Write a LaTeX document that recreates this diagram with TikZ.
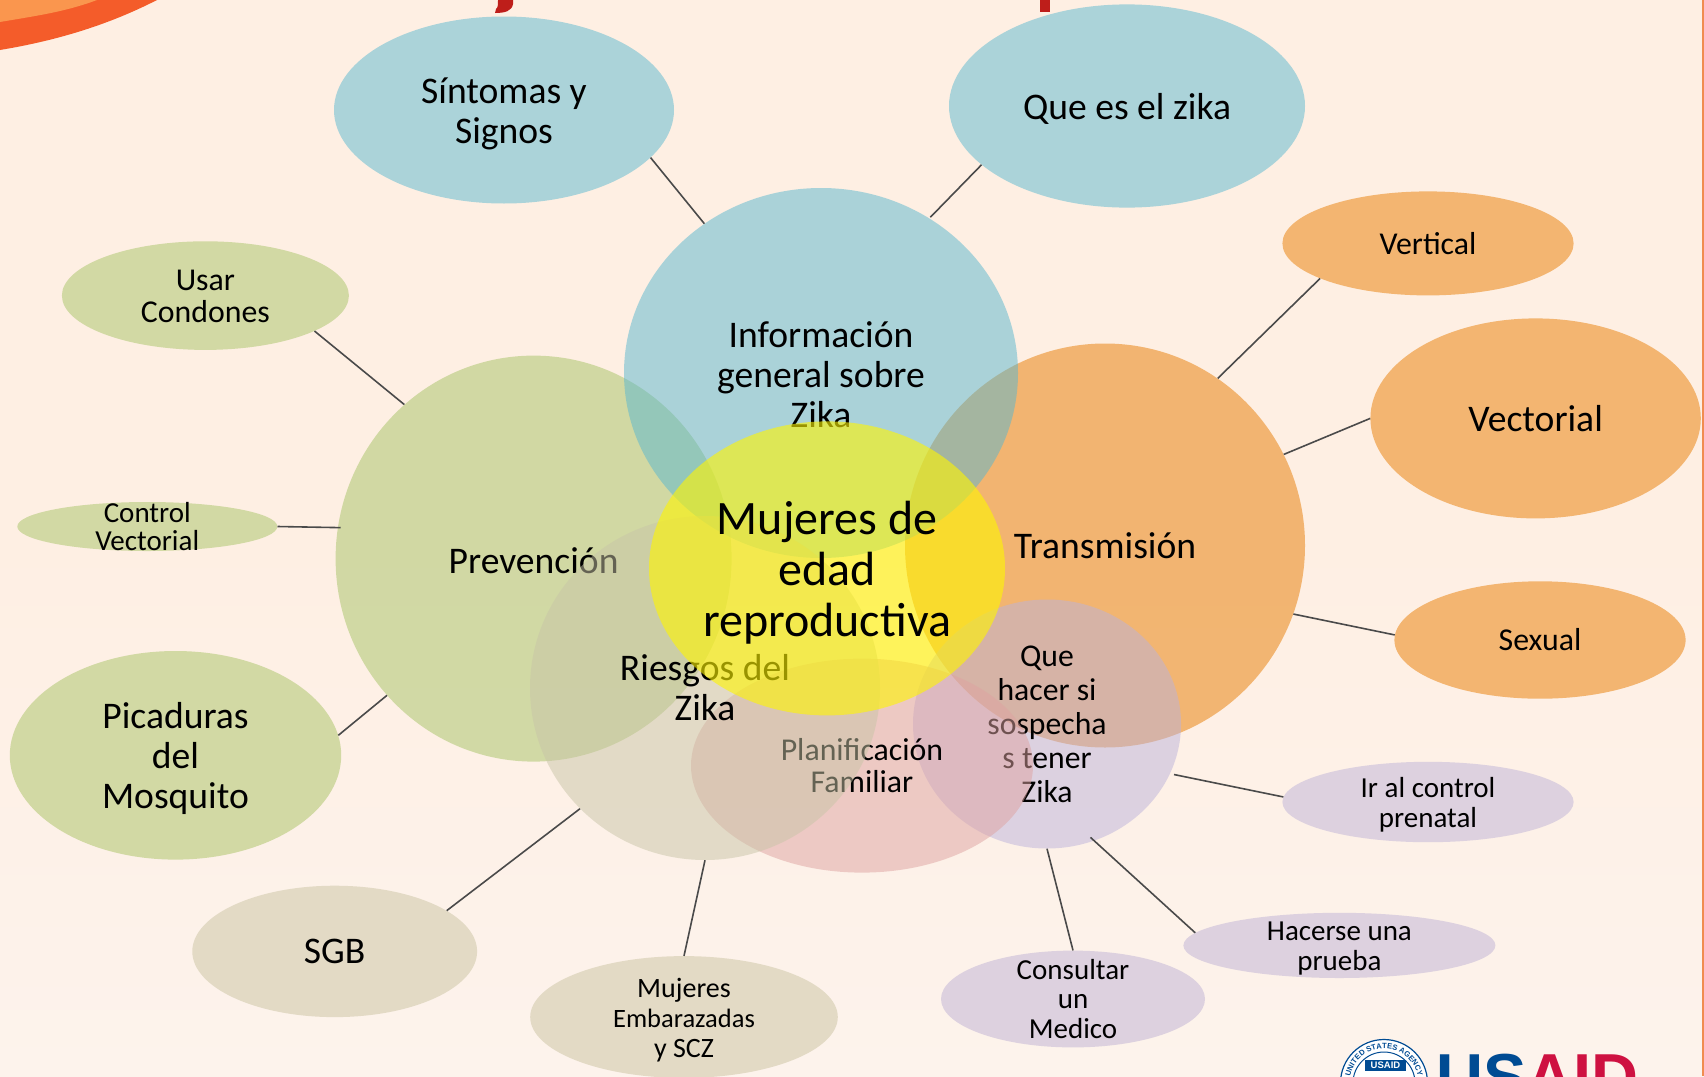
\documentclass[tikz,border=0pt]{standalone}
\usepackage{fontspec}
\setmainfont{Carlito}
\newfontfamily\logofont{Liberation Sans}
\usetikzlibrary{shapes.geometric,decorations.text}
\definecolor{bgtop}{HTML}{FEEFE3}
\definecolor{bgbot}{HTML}{FDF3EC}
\definecolor{cinfo}{RGB}{88,183,207}
\definecolor{ctrans}{RGB}{232,123,0}
\definecolor{cprev}{RGB}{166,195,101}
\definecolor{cries}{RGB}{200,197,167}
\definecolor{cplan}{RGB}{222,163,161}
\definecolor{cque}{RGB}{188,179,219}
\definecolor{cmuj}{RGB}{255,245,0}
\definecolor{sblue}{HTML}{ABD3D9}
\definecolor{sorange}{HTML}{F3B571}
\definecolor{sgreen}{HTML}{D2D9A4}
\definecolor{stan}{HTML}{E3DAC5}
\definecolor{slilac}{HTML}{DDD1DF}
\definecolor{linkc}{HTML}{4A4A4A}
\definecolor{usblue}{HTML}{004B93}
\definecolor{usred}{HTML}{CE1141}
\definecolor{titlered}{HTML}{BE1E1A}
\tikzset{
  x=1pt,y=-1pt,
  blob/.style n args={3}{ellipse,inner sep=-60pt,minimum width=2*#1,minimum height=2*#2,fill=#3,align=center},
  big/.style={fill opacity=.5,text opacity=1},
  lab/.style={inner sep=0pt,align=center},
  link/.style={draw=linkc,line width=1.6pt},
  t33/.style={font=\fontsize{37.6}{40}\selectfont},
  t27/.style={font=\fontsize{31.8}{32.5}\selectfont},
  t25/.style={font=\fontsize{29}{29.5}\selectfont},
}
\begin{document}
\begin{tikzpicture}
\useasboundingbox (0,0) rectangle (1704,1076);
\begin{scope}
\clip (0,0) rectangle (1704,1076);
\shade[top color=bgtop,bottom color=bgbot,middle color=bgtop] (0,0) rectangle (1704,1076);
\fill[color={rgb,255:red,244;green,92;blue,42}] (0,0) -- (157,0) .. controls (110,24) and (60,40) .. (0,50) -- cycle;
\fill[color={rgb,255:red,250;green,150;blue,78}] (0,0) -- (97,0) .. controls (65,12) and (35,16) .. (0,22) -- cycle;
\fill[color={rgb,255:red,240;green,140;blue,80}] (1702,0) rectangle (1704,1076);
% cut-off title
\fill[titlered] (498,0) -- (513,0) -- (513,4) .. controls (512,11) and (505,13) .. (495,13) -- (496,9) .. controls (498,8) and (498,4) .. (498,0) -- cycle;
\fill[titlered] (1040,0) rectangle (1050,12);
% big circles
\node[blob={200pt}{202pt}{ctrans},big,t33] (trans) at (1105,545.5) {Transmisión};
\node[blob={198pt}{203pt}{cprev},big] (prev) at (533.6,558.6) {};
\node[lab,t33] (prevt) at ([yshift=-2pt]prev.center) {Prevención};
\node[blob={197pt}{185pt}{cinfo},big] (info) at (821,373) {};
\node[lab,t33] (infot) at ([yshift=-2pt]info.center) {Información\\general sobre\\Zika};
\node[blob={134pt}{124.5pt}{cque},big,font=\fontsize{31.7}{34}\selectfont] (que) at (1047,724) {Que\\hacer si\\sospecha\\s tener\\Zika};
\node[blob={171pt}{107pt}{cplan},big,t27] (plan) at (862,765.6) {Planificación\\Familiar};
\node[blob={175pt}{172pt}{cries},big,t33] (ries) at (705,688) {Riesgos del\\Zika};
\node[blob={178pt}{147pt}{cmuj},fill opacity=.6] (muj) at (827,568.4) {};
\node[lab,font=\fontsize{48}{51}\selectfont] (mujt) at ([yshift=-4pt]muj.center) {Mujeres de\\edad\\reproductiva};
% satellites
\node[blob={170pt}{93.5pt}{sblue}] (sint) at (504,110) {};
\node[lab,t33] (sintt) at ([yshift=-4pt]sint.center) {Síntomas y\\Signos};
\node[blob={178pt}{101.6pt}{sblue}] (quees) at (1127,106) {};
\node[lab,t33] (queest) at ([yshift=-3pt]quees.center) {Que es el zika};
\node[blob={143.5pt}{54.3pt}{sgreen}] (usar) at (205.4,295.6) {};
\node[lab,t27] (usart) at ([yshift=-1pt]usar.center) {Usar\\Condones};
\node[blob={130pt}{24.5pt}{sgreen},font=\fontsize{29}{28.5}\selectfont] (ctrl) at (147.3,526.5) {Control\\Vectorial};
\node[blob={165.7pt}{104.3pt}{sgreen}] (pica) at (175.5,755.3) {};
\node[lab,t33] (picat) at ([yshift=-3pt]pica.center) {Picaduras\\del\\Mosquito};
\node[blob={142.4pt}{65.7pt}{stan},t33] (sgb) at (334.7,951.4) {SGB};
\node[blob={153.8pt}{60.9pt}{stan}] (emb) at (684,1017) {};
\node[lab,font=\fontsize{28}{30}\selectfont] (embt) at ([yshift=-3pt]emb.center) {Mujeres\\{\fontsize{26.5}{30}\selectfont Embarazadas}\\y SCZ};
\node[blob={132pt}{48.4pt}{slilac},t25] (cons) at (1073,999) {Consultar\\un\\Medico};
\node[blob={156pt}{32.6pt}{slilac}] (hace) at (1339.4,945.4) {};
\node[lab,t25] (hacet) at ([yshift=-3pt]hace.center) {Hacerse una\\prueba};
\node[blob={145.6pt}{40.2pt}{slilac}] (ir) at (1428,802) {};
\node[lab,t25] (irt) at ([yshift=-3pt]ir.center) {Ir al control\\prenatal};
\node[blob={145.6pt}{58.7pt}{sorange},t27] (sexu) at (1540,640) {Sexual};
\node[blob={165.2pt}{100pt}{sorange},t33] (vect) at (1535.6,418.4) {Vectorial};
\node[blob={145.6pt}{52pt}{sorange},t27] (vert) at (1428,243.4) {Vertical};
% connectors
\draw[link] (sint.-18.2) -- (info.128.1);
\draw[link,shorten >=1.5pt] (quees.202.4) -- (info.55);
\draw[link] (usar.-18.1) -- (prev.130.2);
\draw[link,shorten >=-3pt] (ctrl.0) -- (prev.171);
\draw[link] (pica.7.5) -- (prev.223);
\draw[link] (vert.198.1) -- (trans.56.8);
\draw[link] (vect.180) -- (trans.27.3);
\draw[link] (sexu.178.5) -- (trans.-20.1);
\draw[link,shorten >=4pt] (ir.178.5) -- (que.-22.2);
\draw[link,shorten >=-5pt] (hace.175.3) -- (que.-68.2);
\draw[link] (cons.90) -- (que.-90);
\draw[link] (emb.90) -- (ries.-90);
\draw[link] (sgb.20.7) -- (ries.224);
% logo
\fill[white] (1384,1083) circle[radius=44pt];
\draw[usblue,line width=1.2pt] (1384,1083) circle[radius=43.5pt];
\draw[usblue,line width=1pt] (1384,1083) circle[radius=31pt];
\path[postaction={decorate},decoration={text along path,text align=center,
   text={|\logofont\bfseries\fontsize{7.6}{8}\selectfont\color{usblue}|UNITED STATES AGENCY}}]
   (1384,1083) ++(170:34.5pt) arc[start angle=170,end angle=10,radius=34.5pt];
\fill[usblue] (1365,1060) rectangle (1406,1071);
\node[font=\logofont\bfseries\fontsize{9.5}{10}\selectfont,text=white,inner sep=0pt] (seal) at (1385.5,1065.5) {USAID};
\node[font=\logofont\bfseries\fontsize{65}{70}\selectfont,inner sep=0pt,anchor=base west] (usaid) at (1436,1099) {\textcolor{usblue}{US}\textcolor{usred}{AID}};
\end{scope}
\end{tikzpicture}
\end{document}
